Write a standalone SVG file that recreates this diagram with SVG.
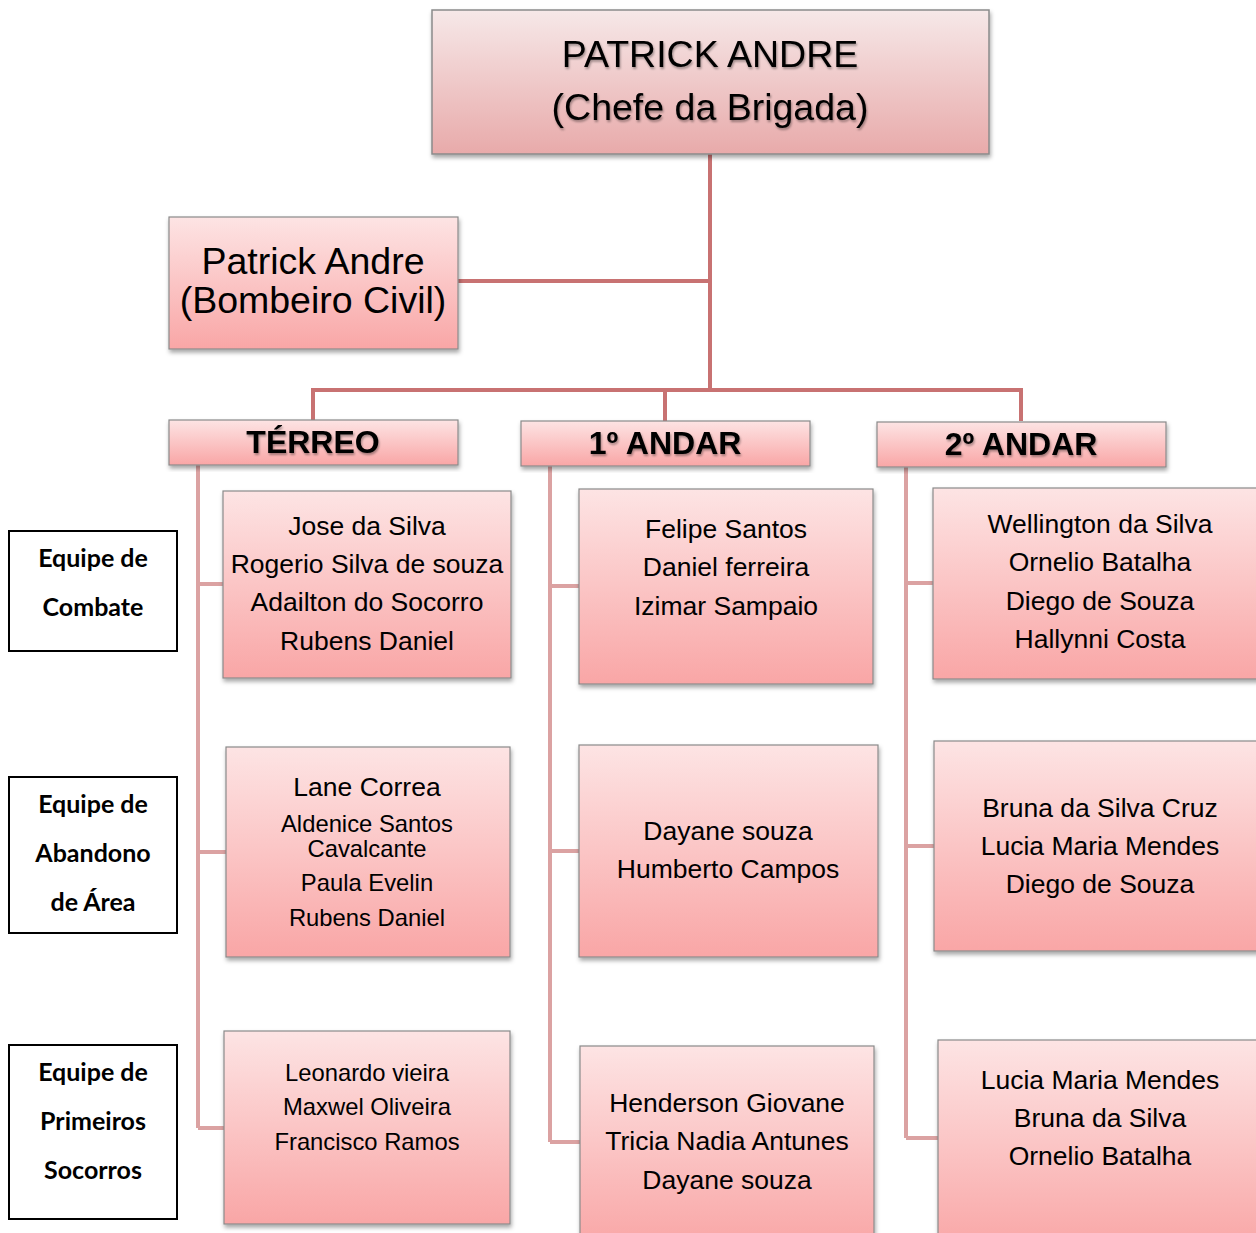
<svg xmlns="http://www.w3.org/2000/svg" width="1256" height="1233" viewBox="0 0 1256 1233">
<defs>
<linearGradient id="gTop" x1="0" y1="0" x2="0" y2="1"><stop offset="0" stop-color="#f6e8e8"/><stop offset="1" stop-color="#e8aaaa"/></linearGradient>
<linearGradient id="gBox" x1="0" y1="0" x2="0" y2="1"><stop offset="0" stop-color="#fde4e4"/><stop offset="1" stop-color="#f9a6a6"/></linearGradient>
<filter id="sh" x="-5%" y="-5%" width="115%" height="120%"><feDropShadow dx="1" dy="3" stdDeviation="2" flood-color="#000" flood-opacity="0.35"/></filter>
<filter id="tsh" x="-5%" y="-10%" width="110%" height="130%"><feDropShadow dx="1" dy="2" stdDeviation="1.2" flood-color="#000" flood-opacity="0.35"/></filter>
</defs>
<style>
.top{fill:url(#gTop);stroke:#8a8a8a;stroke-width:1.5;filter:url(#sh)}
.box{fill:url(#gBox);stroke:#8a8a8a;stroke-width:1.2;filter:url(#sh)}
.lbl{fill:#fff;stroke:#000;stroke-width:2}
text{font-family:"Liberation Sans",Arial,sans-serif;fill:#000;text-anchor:middle}
.big{font-size:37.5px}
.hdr{font-size:32px;font-weight:bold;filter:url(#tsh)}
.n{font-size:26.5px}
.s{font-size:23.8px}
.eq{font-family:Lato,"Open Sans",sans-serif;font-size:25px;font-weight:bold}
.trunk{stroke:#c87272;stroke-width:4;fill:none}
.sub{stroke:#dba2a2;stroke-width:4;fill:none}
</style>
<g id="connectors">
<path class="trunk" d="M710 154V390M458 281H710M313 420V390H1021V421M665 390V421"/>
<path class="sub" d="M198 465V1128M198 584H223M198 852H226M198 1128H224"/>
<path class="sub" d="M550 466V1142M550 586H579M550 851H579M550 1142H580"/>
<path class="sub" d="M906 467V1138M906 583H933M906 846H934M906 1138H938"/>
</g>
<g id="chefe"><rect class="top" x="432" y="10" width="557" height="144"/>
<text class="big" x="710" y="67" filter="url(#tsh)">PATRICK ANDRE</text><text class="big" x="710" y="120" filter="url(#tsh)">(Chefe da Brigada)</text></g>
<g id="bombeiro"><rect class="box" x="169" y="217" width="289" height="132"/>
<text class="big" x="313" y="274">Patrick Andre</text><text class="big" x="313" y="313">(Bombeiro Civil)</text></g>
<g id="terreo"><rect class="box" x="169" y="420" width="289" height="45"/><text class="hdr" x="313" y="453">TÉRREO</text></g>
<g id="andar1"><rect class="box" x="521" y="421" width="289" height="45"/><text class="hdr" x="665" y="454">1º ANDAR</text></g>
<g id="andar2"><rect class="box" x="877" y="422" width="289" height="45"/><text class="hdr" x="1021" y="455">2º ANDAR</text></g>
<g id="lbl-combate"><rect class="lbl" x="9" y="531" width="168" height="120"/><text class="eq" x="93" y="567">Equipe de</text><text class="eq" x="93" y="616">Combate</text></g>
<g id="lbl-abandono"><rect class="lbl" x="9" y="777" width="168" height="156"/><text class="eq" x="93" y="813">Equipe de</text><text class="eq" x="93" y="862">Abandono</text><text class="eq" x="93" y="911">de Área</text></g>
<g id="lbl-socorros"><rect class="lbl" x="9" y="1045" width="168" height="174"/><text class="eq" x="93" y="1081">Equipe de</text><text class="eq" x="93" y="1130">Primeiros</text><text class="eq" x="93" y="1179">Socorros</text></g>
<g id="t-combate"><rect class="box" x="223" y="491" width="288" height="187"/>
<text class="n" x="367" y="535">Jose da Silva</text><text class="n" x="367" y="573">Rogerio Silva de souza</text><text class="n" x="367" y="611">Adailton do Socorro</text><text class="n" x="367" y="650">Rubens Daniel</text></g>
<g id="t-abandono"><rect class="box" x="226" y="747" width="284" height="210"/>
<text class="n" x="367" y="796">Lane Correa</text><text class="s" x="367" y="832">Aldenice Santos</text><text class="s" x="367" y="857">Cavalcante</text><text class="s" x="367" y="891">Paula Evelin</text><text class="s" x="367" y="926">Rubens Daniel</text></g>
<g id="t-socorros"><rect class="box" x="224" y="1031" width="286" height="193"/>
<text class="s" x="367" y="1081">Leonardo vieira</text><text class="s" x="367" y="1115">Maxwel Oliveira</text><text class="s" x="367" y="1150">Francisco Ramos</text></g>
<g id="a1-combate"><rect class="box" x="579" y="489" width="294" height="195"/>
<text class="n" x="726" y="538">Felipe Santos</text><text class="n" x="726" y="576">Daniel ferreira</text><text class="n" x="726" y="615">Izimar Sampaio</text></g>
<g id="a1-abandono"><rect class="box" x="579" y="745" width="299" height="212"/>
<text class="n" x="728" y="840">Dayane souza</text><text class="n" x="728" y="878">Humberto Campos</text></g>
<g id="a1-socorros"><rect class="box" x="580" y="1046" width="294" height="200"/>
<text class="n" x="727" y="1112">Henderson Giovane</text><text class="n" x="727" y="1150">Tricia Nadia Antunes</text><text class="n" x="727" y="1189">Dayane souza</text></g>
<g id="a2-combate"><rect class="box" x="933" y="488" width="340" height="191"/>
<text class="n" x="1100" y="533">Wellington da Silva</text><text class="n" x="1100" y="571">Ornelio Batalha</text><text class="n" x="1100" y="610">Diego de Souza</text><text class="n" x="1100" y="648">Hallynni Costa</text></g>
<g id="a2-abandono"><rect class="box" x="934" y="741" width="340" height="210"/>
<text class="n" x="1100" y="817">Bruna da Silva Cruz</text><text class="n" x="1100" y="855">Lucia Maria Mendes</text><text class="n" x="1100" y="893">Diego de Souza</text></g>
<g id="a2-socorros"><rect class="box" x="938" y="1040" width="340" height="210"/>
<text class="n" x="1100" y="1089">Lucia Maria Mendes</text><text class="n" x="1100" y="1127">Bruna da Silva</text><text class="n" x="1100" y="1165">Ornelio Batalha</text></g>
</svg>
